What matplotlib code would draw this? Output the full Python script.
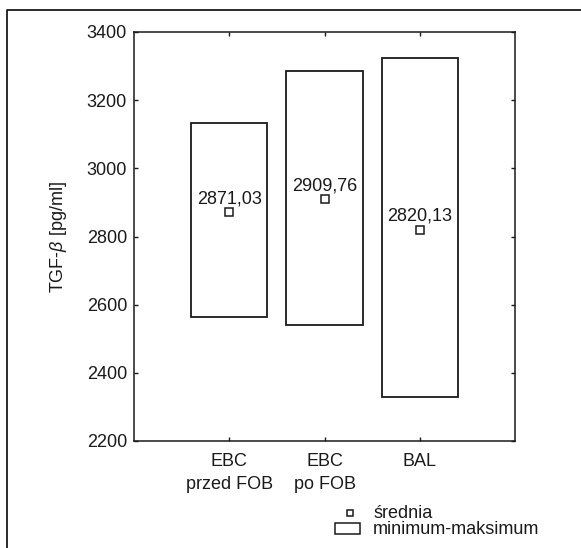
import matplotlib
matplotlib.use("Agg")
import matplotlib.pyplot as plt
from matplotlib.lines import Line2D
from matplotlib.patches import Rectangle

plt.rcParams['font.family'] = ['Liberation Sans', 'DejaVu Sans']
plt.rcParams['mathtext.fontset'] = 'custom'
plt.rcParams['mathtext.it'] = 'Liberation Sans:italic'

# --- data ---
categories = ["EBC\nprzed FOB", "EBC\npo FOB", "BAL"]
means = [2871.03, 2909.76, 2820.13]
minimums = [2565, 2541, 2330]
maximums = [3134, 3286, 3325]
mean_labels = ["2871,03", "2909,76", "2820,13"]
y_ticks = [2200, 2400, 2600, 2800, 3000, 3200, 3400]

INK = "#1a1a1a"
FS = 13
W, H = 581, 548

fig = plt.figure(figsize=(W / 100, H / 100), dpi=100)
ax = fig.add_axes([134 / W, 1 - 441 / H, 381 / W, 409 / H])

xpos = list(range(1, len(categories) + 1))
heights = [hi - lo for lo, hi in zip(minimums, maximums)]
ax.bar(xpos, heights, bottom=minimums, width=0.8, fill=False,
       edgecolor=INK, linewidth=1.3)
ax.plot(xpos, means, linestyle='none', marker='s', markersize=5.5,
        markerfacecolor='white', markeredgecolor=INK, markeredgewidth=1.1)
for x, m, lab in zip(xpos, means, mean_labels):
    ax.annotate(lab, (x, m), xytext=(0, 3.5), textcoords='offset points',
                ha='center', va='bottom', fontsize=FS, color=INK)

ax.set_xlim(0, 4)
ax.set_ylim(2200, 3400)
ax.set_xticks(xpos)
ax.set_xticklabels(categories, fontsize=FS, linespacing=1.45)
ax.set_yticks(y_ticks)
ax.set_yticklabels([str(t) for t in y_ticks], fontsize=FS)
ax.tick_params(direction='in', length=3, width=1, color=INK,
               top=True, right=True, labelcolor=INK)
ax.tick_params(axis='x', pad=9)
ax.tick_params(axis='y', pad=5)
for s in ax.spines.values():
    s.set_linewidth(1.1)
    s.set_color(INK)

ax.set_ylabel(r"TGF-$\it{\beta}$ [pg/ml]", fontsize=FS, color=INK, labelpad=13)

# legend drawn in figure pixels
def px(x, y):
    return x / W, 1 - y / H

fig.add_artist(Rectangle(px(347, 516), 6 / W, 6 / H, transform=fig.transFigure,
                         fill=False, edgecolor=INK, linewidth=1.1))
fig.add_artist(Rectangle(px(335, 534), 25 / W, 11 / H, transform=fig.transFigure,
                         fill=False, edgecolor=INK, linewidth=1.1))
fig.text(*px(373, 513), "średnia", fontsize=FS, va='center', color=INK)
fig.text(*px(373, 530), "minimum-maksimum", fontsize=FS, va='center', color=INK)

# outer frame (cut at right and bottom edge)
fig.add_artist(Line2D([7 / W, 7 / W, 1.02], [-0.02, 1 - 10 / H, 1 - 10 / H],
                      transform=fig.transFigure, color=INK, linewidth=1.3))

fig.savefig("out.png", dpi=100)
